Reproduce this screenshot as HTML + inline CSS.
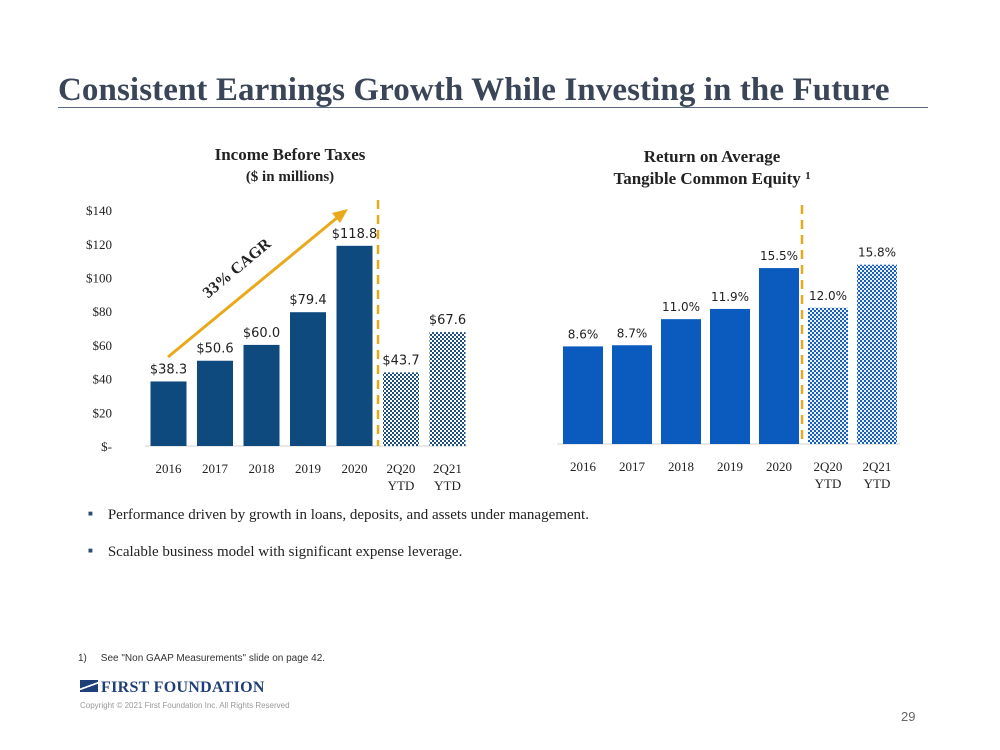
<!DOCTYPE html>
<html><head><meta charset="utf-8"><style>
body{margin:0;background:#fff;width:1000px;height:750px;overflow:hidden;position:relative;font-family:"Liberation Serif",serif}
.t{position:absolute;white-space:nowrap}
</style></head><body>
<div class="t" style="left:58px;top:72px;font-size:33px;font-weight:bold;color:#3a4658;font-family:'Liberation Serif',serif;letter-spacing:0.1px">Consistent Earnings Growth While Investing in the Future</div>
<div style="position:absolute;left:58px;top:107px;width:870px;height:1px;background:#5a6a80"></div>
<svg width="1000" height="750" style="position:absolute;left:0;top:0" id="svg">
<defs>
<pattern id="chkL" width="4" height="4" patternUnits="userSpaceOnUse"><rect width="4" height="4" fill="#fff"/><rect width="2" height="2" fill="#1f4f7e"/><rect x="2" y="2" width="2" height="2" fill="#1f4f7e"/></pattern>
<pattern id="chkR" width="4" height="4" patternUnits="userSpaceOnUse"><rect width="4" height="4" fill="#e8f0fa"/><rect width="2" height="2" fill="#1b5fb8"/><rect x="2" y="2" width="2" height="2" fill="#1b5fb8"/></pattern>
</defs>
<text x="290" y="160" text-anchor="middle" font-size="17" font-weight="bold" fill="#222">Income Before Taxes</text>
<text x="290" y="181" text-anchor="middle" font-size="15" font-weight="bold" fill="#222">($ in millions)</text>
<text x="712" y="162" text-anchor="middle" font-size="17" font-weight="bold" fill="#222">Return on Average</text>
<text x="712" y="184" text-anchor="middle" font-size="17" font-weight="bold" fill="#222">Tangible Common Equity <tspan font-size="11" dy="-5">1</tspan></text>
<g id="L"></g><g id="R"></g>
<line x1="168" y1="357" x2="338" y2="217" stroke="#e8a91a" stroke-width="3"/>
<polygon points="348,209 332,213 340,223" fill="#e8a91a"/>
<text x="240" y="272" text-anchor="middle" font-size="16" font-weight="bold" fill="#222" transform="rotate(-40 240 272)" font-family="Liberation Serif">33% CAGR</text>
<line x1="378" y1="200" x2="378" y2="446" stroke="#e8a91a" stroke-width="2.5" stroke-dasharray="9,6"/>
<line x1="802" y1="205" x2="802" y2="444" stroke="#e8a91a" stroke-width="2.5" stroke-dasharray="9,6"/>
</svg>
<div class="t" style="left:88px;top:507px;font-size:15px;color:#222"><span style="font-size:8px;vertical-align:3px;color:#2a4a7a">■</span>&nbsp;&nbsp;&nbsp;&nbsp;Performance driven by growth in loans, deposits, and assets under management.</div>
<div class="t" style="left:88px;top:544px;font-size:15px;color:#222"><span style="font-size:8px;vertical-align:3px;color:#2a4a7a">■</span>&nbsp;&nbsp;&nbsp;&nbsp;Scalable business model with significant expense leverage.</div>
<div class="t" style="left:78px;top:653px;font-size:10px;color:#333;font-family:'Liberation Sans',sans-serif">1)&nbsp;&nbsp;&nbsp;&nbsp;&nbsp;See "Non GAAP Measurements" slide on page 42.</div>
<div class="t" style="left:80px;top:679px;font-size:16px;font-weight:bold;color:#1f3f78;letter-spacing:0.3px"><span style="display:inline-block;width:18px;height:12px;background:linear-gradient(160deg,#1f3f78 45%,#fff 46%,#fff 55%,#1f3f78 56%);margin-right:3px"></span>FIRST FOUNDATION</div>
<div class="t" style="left:80px;top:701px;font-size:8px;color:#999;font-family:'Liberation Sans',sans-serif">Copyright © 2021 First Foundation Inc. All Rights Reserved</div>
<div class="t" style="left:901px;top:709px;font-size:13px;color:#666;font-family:'Liberation Sans',sans-serif">29</div>
<script>
const categories=["2016","2017","2018","2019","2020","2Q20","2Q21"];
const incomeValues=[38.3,50.6,60.0,79.4,118.8,43.7,67.6];
const roteValues=[8.6,8.7,11.0,11.9,15.5,12.0,15.8];
const incomeTicks=[0,20,40,60,80,100,120,140];
const ns="http://www.w3.org/2000/svg";
function mk(p,tag,a,txt){const e=document.createElementNS(ns,tag);for(const k in a)e.setAttribute(k,a[k]);if(txt!=null)e.textContent=txt;p.appendChild(e);return e;}
const L=document.getElementById('L'),R=document.getElementById('R');
const yL=v=>446-v*1.685, xL=i=>150.5+i*46.5;
const yR=v=>444-v*11.35, xR=i=>563+i*49;
incomeTicks.forEach(t=>{const e=mk(L,'text',{x:112,y:yL(t)+5,'text-anchor':'end','font-size':13,fill:'#222'},t===0?'$-':'$'+t);

});
mk(L,'line',{x1:145,y1:446,x2:467,y2:446,stroke:'#d0d0d0'});
mk(R,'line',{x1:557,y1:444,x2:900,y2:444,stroke:'#d0d0d0'});
categories.forEach((c,i)=>{
 const v=incomeValues[i];const b=mk(L,'rect',{x:xL(i),y:yL(v),width:36,height:446-yL(v),fill:i>4?'url(#chkL)':'#0e4a7e'});
 
 
 const l=mk(L,'text',{x:xL(i)+18,y:yL(v)-8,'text-anchor':'middle','font-size':13,fill:'#222','font-family':'DejaVu Sans, Liberation Sans'},'$'+v.toFixed(1));
 
 
 const r=roteValues[i];const b2=mk(R,'rect',{x:xR(i),y:yR(r),width:40,height:444-yR(r),fill:i>4?'url(#chkR)':'#0a5bbd'});
 
 
 const l2=mk(R,'text',{x:xR(i)+20,y:yR(r)-8,'text-anchor':'middle','font-size':12,fill:'#222','font-family':'DejaVu Sans, Liberation Sans'},r.toFixed(1)+'%');
 
 
 [[L,xL(i)+18,473],[R,xR(i)+20,471]].forEach(([g,x,y])=>{
  const t=mk(g,'text',{x:x,y:y,'text-anchor':'middle','font-size':13,fill:'#222'},c);
  
  
  if(i>4){const t2=mk(g,'text',{x:x,y:y+17,'text-anchor':'middle','font-size':13,fill:'#222'},'YTD');
  
  }
 });
});
</script>
</body></html>
